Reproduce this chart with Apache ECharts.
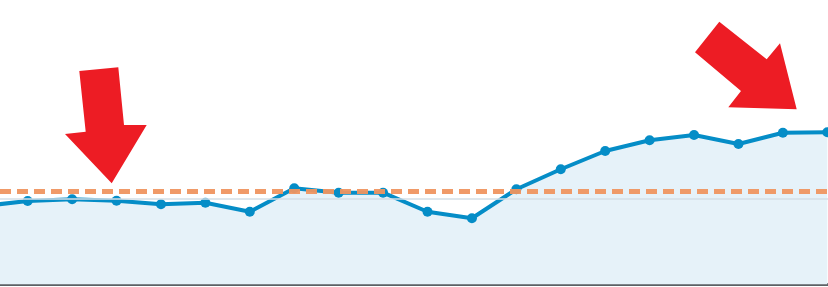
<!DOCTYPE html>
<html>
<head>
<meta charset="utf-8">
<script src="https://cdn.jsdelivr.net/npm/echarts@6/dist/echarts.min.js"></script>
<style>
html,body{margin:0;padding:0;background:#fff;}
#chart{width:828px;height:287px;}
</style>
</head>
<body>
<div id="chart"></div>
<script>
// Data (arbitrary units); the chart is cropped, first point lies just left of the view
var categories = [0, 1, 2, 3, 4, 5, 6, 7, 8, 9, 10, 11, 12, 13, 14, 15, 16, 17, 18, 19];
var values = [915, 973, 993, 977, 935, 953, 848, 1121, 1070, 1070, 848, 772, 1110, 1343, 1556, 1681, 1742, 1638, 1769, 1774];
var referenceLevel = 1086;
var gridLevel = 1000;
var yTicks = [0, 1000, 2000];
var xView = [0.3764, 19.0158]; // visible window of the cropped chart

var seriesData = categories.map(function (c, i) { return [c, values[i]]; });

var chart = echarts.init(document.getElementById('chart'), null, {renderer: 'canvas'});

var option = {
  animation: false,
  backgroundColor: '#ffffff',
  grid: {left: 0, right: 0, top: 112.9, bottom: 2.5, containLabel: false},
  xAxis: {
    type: 'value',
    min: xView[0],
    max: xView[1],
    axisLine: {show: true, onZero: false, lineStyle: {color: '#5C6165', width: 3}},
    axisTick: {show: false},
    axisLabel: {show: false},
    splitLine: {show: false}
  },
  yAxis: {
    type: 'value',
    min: yTicks[0],
    max: yTicks[yTicks.length - 1],
    interval: yTicks[1] - yTicks[0],
    axisLine: {show: false},
    axisTick: {show: false},
    axisLabel: {show: false},
    splitLine: {show: false}
  },
  series: [
    {
      type: 'line',
      data: seriesData,
      z: 2,
      symbol: 'none',
      lineStyle: {width: 0, opacity: 0},
      areaStyle: {color: '#E6F2F9', opacity: 1},
      clip: true
    },
    {
      type: 'line',
      data: [],
      z: 2.5,
      markLine: {
        silent: true,
        symbol: ['none', 'none'],
        label: {show: false},
        lineStyle: {color: '#D3DEE6', width: 1.5, type: 'solid'},
        data: [{yAxis: gridLevel}]
      }
    },
    {
      type: 'line',
      data: seriesData,
      z: 3,
      symbol: 'circle',
      symbolSize: 10,
      showSymbol: true,
      lineStyle: {color: '#058DC7', width: 4},
      itemStyle: {color: '#058DC7', borderWidth: 0},
      clip: true
    },
    {
      type: 'line',
      data: [],
      z: 5,
      markLine: {
        silent: true,
        symbol: ['none', 'none'],
        label: {show: false},
        lineStyle: {color: '#EF9560', width: 5, type: [11, 6], opacity: 0.95},
        data: [{yAxis: referenceLevel}]
      }
    }
  ],
  graphic: [
    {
      type: 'polygon',
      z: 100,
      shape: {points: [[79.3, 71], [118.3, 67.3], [124, 125], [146.7, 125], [111.7, 183.3], [65, 134], [85.7, 131.7]]},
      style: {fill: '#ED1C24'}
    },
    {
      type: 'polygon',
      z: 100,
      shape: {points: [[695, 52.3], [719.3, 21.7], [766.7, 59.3], [780, 43.3], [796.7, 109.3], [728.3, 107.3], [741, 91]]},
      style: {fill: '#ED1C24'}
    }
  ]
};
chart.setOption(option);
</script>
</body>
</html>
